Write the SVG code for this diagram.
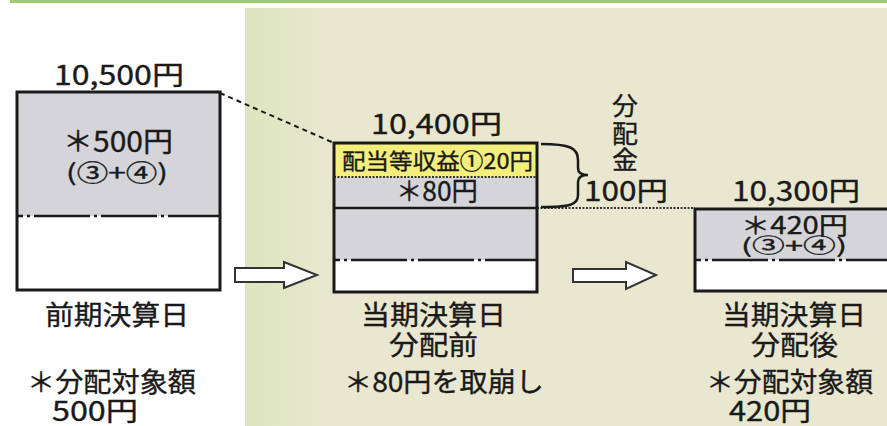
<svg xmlns="http://www.w3.org/2000/svg" width="887" height="426" viewBox="0 0 887 426">
<defs>
<linearGradient id="bg" x1="245" y1="0" x2="340" y2="0" gradientUnits="userSpaceOnUse">
<stop offset="0" stop-color="#dde5bf"/>
<stop offset="1" stop-color="#e9e7d0"/>
</linearGradient>
<style>
text{font-family:"Noto Sans CJK JP","Noto Sans",sans-serif;fill:#1a1a1a;font-weight:400;stroke:#1a1a1a;stroke-width:0.35}
.box{fill:none;stroke:#1a1a1a;stroke-width:3}
.gray{fill:#d4d4d9}
.white{fill:#ffffff}
.yel{fill:#f4ef7c}
.dd{stroke:#1a1a1a;stroke-width:2.5;stroke-dasharray:56 4 3 4;fill:none}
.amt{font-size:27px}
.lbl{font-size:27px}
.arrow{fill:#ffffff;stroke:#333;stroke-width:2}
</style>
</defs>
<rect width="887" height="426" fill="#ffffff"/>
<rect x="245" y="8" width="642" height="418" fill="url(#bg)"/>
<rect x="10" y="0" width="877" height="3" fill="#9dcc74"/>

<g id="connectors">
<line x1="220" y1="93" x2="334" y2="143" stroke="#1a1a1a" stroke-width="2" stroke-dasharray="5 4"/>
<line x1="537" y1="208" x2="695" y2="208" stroke="#333" stroke-width="2" stroke-dasharray="2 1.5"/>
<path d="M541,144 C570,144 578,148 578,160 L578,168 C578,173 582,175 588,175 C582,175 578,177 578,182 L578,195 C578,205 570,207 541,207" fill="none" stroke="#1a1a1a" stroke-width="2.5"/>
<path class="arrow" d="M235,268 L284,268 L284,262 L317,275 L284,288 L284,282 L235,282 Z"/>
<path class="arrow" d="M573,269 L626,269 L626,262 L656,275 L626,289 L626,282 L573,282 Z"/>
</g>

<g id="node-prev">
<text class="amt" x="54" y="85" textLength="130" lengthAdjust="spacingAndGlyphs">10,500円</text>
<rect class="gray" x="17" y="92" width="203" height="124"/>
<rect class="white" x="17" y="216" width="203" height="74"/>
<line class="dd" x1="17" y1="216" x2="220" y2="216" stroke-dashoffset="50"/>
<rect class="box" x="17" y="92" width="203" height="198"/>
<text x="63" y="152" style="font-size:28px" textLength="110" lengthAdjust="spacingAndGlyphs">＊500円</text>
<text x="66" y="181" style="font-size:23px" textLength="102" lengthAdjust="spacingAndGlyphs">(③+④)</text>
<text class="lbl" x="45" y="325" textLength="144" lengthAdjust="spacingAndGlyphs">前期決算日</text>
<text class="lbl" x="27" y="392" textLength="169" lengthAdjust="spacingAndGlyphs">＊分配対象額</text>
<text class="lbl" x="52" y="421" textLength="86" lengthAdjust="spacingAndGlyphs">500円</text>
</g>

<g id="node-before">
<text class="amt" x="371" y="134" textLength="131" lengthAdjust="spacingAndGlyphs">10,400円</text>
<rect class="yel" x="334" y="143" width="203" height="34"/>
<rect class="gray" x="334" y="177" width="203" height="83"/>
<rect class="white" x="334" y="260" width="203" height="32"/>
<line x1="334" y1="177" x2="537" y2="177" stroke="#333" stroke-width="2" stroke-dasharray="2 1.5"/>
<line x1="334" y1="208" x2="537" y2="208" stroke="#1a1a1a" stroke-width="2.5"/>
<line class="dd" x1="334" y1="260" x2="537" y2="260" stroke-dashoffset="50"/>
<rect class="box" x="334" y="143" width="203" height="149"/>
<text x="342" y="169" style="font-size:22px" textLength="191" lengthAdjust="spacingAndGlyphs">配当等収益①20円</text>
<text x="396" y="201" style="font-size:27px" textLength="82" lengthAdjust="spacingAndGlyphs">＊80円</text>
<text class="lbl" x="361" y="325" textLength="145" lengthAdjust="spacingAndGlyphs">当期決算日</text>
<text class="lbl" x="389" y="355" textLength="89" lengthAdjust="spacingAndGlyphs">分配前</text>
<text class="lbl" x="344" y="392" textLength="200" lengthAdjust="spacingAndGlyphs">＊80円を取崩し</text>
</g>

<g id="node-dist">
<text x="612" y="115" style="font-size:25px" textLength="26" lengthAdjust="spacingAndGlyphs">分</text>
<text x="612" y="143" style="font-size:25px" textLength="26" lengthAdjust="spacingAndGlyphs">配</text>
<text x="612" y="169" style="font-size:25px" textLength="26" lengthAdjust="spacingAndGlyphs">金</text>
<text class="amt" x="584" y="201" textLength="84" lengthAdjust="spacingAndGlyphs">100円</text>
</g>

<g id="node-after">
<text class="amt" x="732" y="201" textLength="128" lengthAdjust="spacingAndGlyphs">10,300円</text>
<rect class="gray" x="695" y="209" width="200" height="51"/>
<rect class="white" x="695" y="260" width="200" height="31"/>
<line class="dd" x1="695" y1="260" x2="887" y2="260" stroke-dashoffset="50"/>
<rect class="box" x="695" y="209" width="200" height="82"/>
<text x="741" y="234" style="font-size:24px" textLength="107" lengthAdjust="spacingAndGlyphs">＊420円</text>
<text x="741" y="253" style="font-size:20px" textLength="106" lengthAdjust="spacingAndGlyphs">(③+④)</text>
<text class="lbl" x="722" y="325" textLength="144" lengthAdjust="spacingAndGlyphs">当期決算日</text>
<text class="lbl" x="751" y="355" textLength="87" lengthAdjust="spacingAndGlyphs">分配後</text>
<text class="lbl" x="706" y="392" textLength="167" lengthAdjust="spacingAndGlyphs">＊分配対象額</text>
<text class="lbl" x="729" y="421" textLength="82" lengthAdjust="spacingAndGlyphs">420円</text>
</g>
</svg>
